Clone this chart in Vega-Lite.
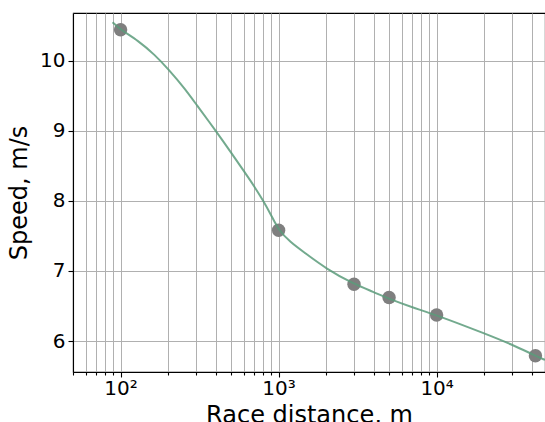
{
  "$schema": "https://vega.github.io/schema/vega-lite/v6.json",
  "width": 472,
  "height": 359,
  "autosize": "none",
  "padding": {"left": 73, "top": 13, "right": 0, "bottom": 50},
  "background": "white",
  "config": {
    "font": "DejaVu Sans",
    "view": {"stroke": "black", "strokeWidth": 1.1},
    "axis": {
      "labelFont": "DejaVu Sans",
      "titleFont": "DejaVu Sans",
      "labelFontSize": 20,
      "titleFontSize": 24,
      "titleFontWeight": "normal",
      "labelColor": "black",
      "titleColor": "black",
      "domainColor": "black",
      "domainWidth": 1.1,
      "tickColor": "black",
      "tickWidth": 1.1,
      "gridColor": "#b0b0b0",
      "gridWidth": 1
    }
  },
  "datasets": {
    "curve": [
      {"distance": 89, "speed": 10.545},
      {"distance": 100, "speed": 10.44},
      {"distance": 129, "speed": 10.285},
      {"distance": 165, "speed": 10.08},
      {"distance": 200, "speed": 9.88},
      {"distance": 255, "speed": 9.6},
      {"distance": 300, "speed": 9.38},
      {"distance": 400, "speed": 9.0},
      {"distance": 500, "speed": 8.69},
      {"distance": 600, "speed": 8.43},
      {"distance": 700, "speed": 8.21},
      {"distance": 800, "speed": 8.0},
      {"distance": 900, "speed": 7.79},
      {"distance": 1000, "speed": 7.58},
      {"distance": 1186, "speed": 7.41},
      {"distance": 1439, "speed": 7.27},
      {"distance": 2000, "speed": 7.03},
      {"distance": 3000, "speed": 6.81},
      {"distance": 4000, "speed": 6.7},
      {"distance": 5000, "speed": 6.6},
      {"distance": 7000, "speed": 6.48},
      {"distance": 10000, "speed": 6.37},
      {"distance": 20000, "speed": 6.11},
      {"distance": 30000, "speed": 5.95},
      {"distance": 42195, "speed": 5.79},
      {"distance": 48500, "speed": 5.73}
    ],
    "races": [
      {"distance": 100, "speed": 10.44},
      {"distance": 1000, "speed": 7.58},
      {"distance": 3000, "speed": 6.81},
      {"distance": 5000, "speed": 6.62},
      {"distance": 10000, "speed": 6.37},
      {"distance": 42195, "speed": 5.79}
    ]
  },
  "encoding": {
    "x": {
      "field": "distance",
      "type": "quantitative",
      "scale": {"type": "log", "domain": [50, 48500], "nice": false},
      "axis": {
        "title": "Race distance, m",
        "values": [50, 60, 70, 80, 90, 100, 200, 300, 400, 500, 600, 700, 800, 900, 1000, 2000, 3000, 4000, 5000, 6000, 7000, 8000, 9000, 10000, 20000, 30000, 40000],
        "labelExpr": "datum.value == 100 ? '10²' : datum.value == 1000 ? '10³' : datum.value == 10000 ? '10⁴' : ''",
        "tickSize": {"condition": {"test": "datum.value == 100 || datum.value == 1000 || datum.value == 10000", "value": 5}, "value": 3},
        "labelPadding": 1,
        "labelFlush": false,
        "labelOverlap": false,
        "titlePadding": 5
      }
    },
    "y": {
      "field": "speed",
      "type": "quantitative",
      "scale": {"domain": [5.558, 10.678], "nice": false, "zero": false},
      "axis": {
        "title": "Speed, m/s",
        "values": [6, 7, 8, 9, 10],
        "tickSize": 5,
        "labelPadding": 3,
        "titlePadding": 8
      }
    }
  },
  "layer": [
    {
      "data": {"name": "races"},
      "mark": {"type": "point", "filled": true, "size": 180, "color": "#7f7f7f", "opacity": 1}
    },
    {
      "data": {"name": "curve"},
      "mark": {"type": "line", "interpolate": "basis", "color": "#5a9b7a", "strokeWidth": 2, "opacity": 0.85, "clip": true}
    }
  ]
}
